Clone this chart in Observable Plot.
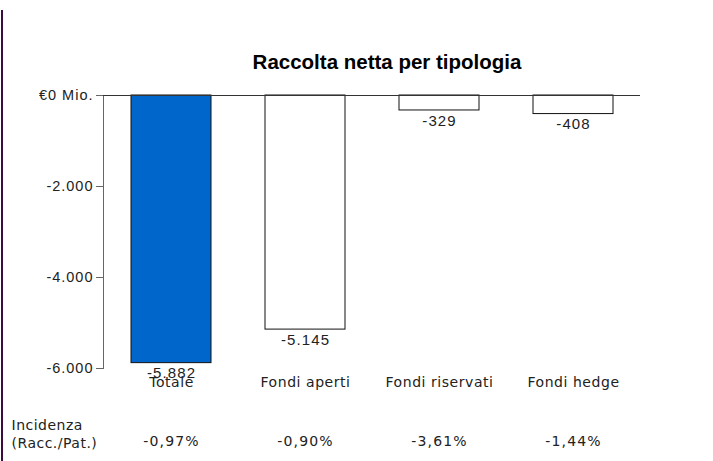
<!DOCTYPE html>
<html>
<head>
<meta charset="utf-8">
<script src="https://cdn.jsdelivr.net/npm/d3@7"></script>
<script src="https://cdn.jsdelivr.net/npm/@observablehq/plot@0.6"></script>
<style>
  html, body { margin: 0; padding: 0; background: #fff; }
  #wrap { position: relative; width: 713px; height: 461px; }
  #edge { position: absolute; left: 1px; top: 10px; width: 2px; height: 451px; background: #3c0c40; }
</style>
</head>
<body>
<div id="wrap"><div id="edge"></div></div>
<script>
const title = "Raccolta netta per tipologia";
const categories = ["Totale", "Fondi aperti", "Fondi riservati", "Fondi hedge"];
const values = [-5882, -5145, -329, -408];
const incidenza = ["-0,97%", "-0,90%", "-3,61%", "-1,44%"];
const rowLabel = "Incidenza\n(Racc./Pat.)";
const yTicks = [0, -2000, -4000, -6000];
const yTickLabels = ["€0 Mio.", "-2.000", "-4.000", "-6.000"];

const loc = d3.formatLocale({decimal: ",", thousands: ".", grouping: [3], currency: ["€", ""], minus: "-"});
const fmt = loc.format(",d");

const data = categories.map((c, i) => ({cat: c, value: values[i], pct: incidenza[i]}));
const sans = "'Liberation Sans', Arial, sans-serif";
const verd = "'DejaVu Sans', Verdana, sans-serif";

const chart = Plot.plot({
  width: 713,
  height: 461,
  marginLeft: 103,
  marginRight: 73,
  marginTop: 95,
  marginBottom: 93,
  style: {fontFamily: sans, background: "white", overflow: "visible"},
  x: {domain: categories, paddingInner: 0.406, paddingOuter: 0.196, axis: null},
  y: {domain: [-6000, 0], axis: null, label: null},
  marks: [
    Plot.frame({anchor: "left", stroke: "#666"}),
    Plot.axisY({ticks: yTicks, tickFormat: (d) => yTickLabels[yTicks.indexOf(d)], tickSize: 7, tickPadding: 3, label: null, stroke: "#666", fill: "#222", fontSize: 14.5, fontFamily: sans}),
    Plot.barY(data, {x: "cat", y: "value", fill: (d) => d.cat === "Totale" ? "#0066cc" : "white", stroke: "#111", strokeWidth: 1}),
    Plot.ruleY([0], {stroke: "#333"}),
    Plot.text(data, {x: "cat", y: "value", text: (d) => fmt(d.value), lineAnchor: "top", dy: 4.5, fontSize: 15, fill: "#222", fontFamily: sans}),
    Plot.text(data, {x: "cat", text: "cat", frameAnchor: "bottom", lineAnchor: "middle", dy: 14, fontSize: 14, fill: "#222", fontFamily: verd}),
    Plot.text(data, {x: "cat", text: "pct", frameAnchor: "bottom", lineAnchor: "middle", dy: 73.5, fontSize: 14, fill: "#222", fontFamily: verd}),
    Plot.text([rowLabel], {text: (d) => d, frameAnchor: "bottom-left", textAnchor: "start", lineAnchor: "middle", dx: -92, dy: 64.5, lineHeight: 1.33, fontSize: 14, fill: "#222", fontFamily: verd}),
    Plot.text([title], {text: (d) => d, frameAnchor: "top", lineAnchor: "middle", dx: 15, dy: -33, fontSize: 20.5, fontWeight: "bold", fill: "#000", fontFamily: sans})
  ]
});
// letter spacing per text group (values, categories, percentages, row label, title)
const spacing = ["1.1px", "0.55px", "1.2px", "0.5px", "0px"];
chart.querySelectorAll('g[aria-label="text"]').forEach((g, i) => { g.style.letterSpacing = spacing[i] || "0px"; });
chart.querySelectorAll('g[aria-label="y-axis tick label"]').forEach((g) => { g.style.letterSpacing = "1px"; });
document.getElementById("wrap").appendChild(chart);
</script>
</body>
</html>
